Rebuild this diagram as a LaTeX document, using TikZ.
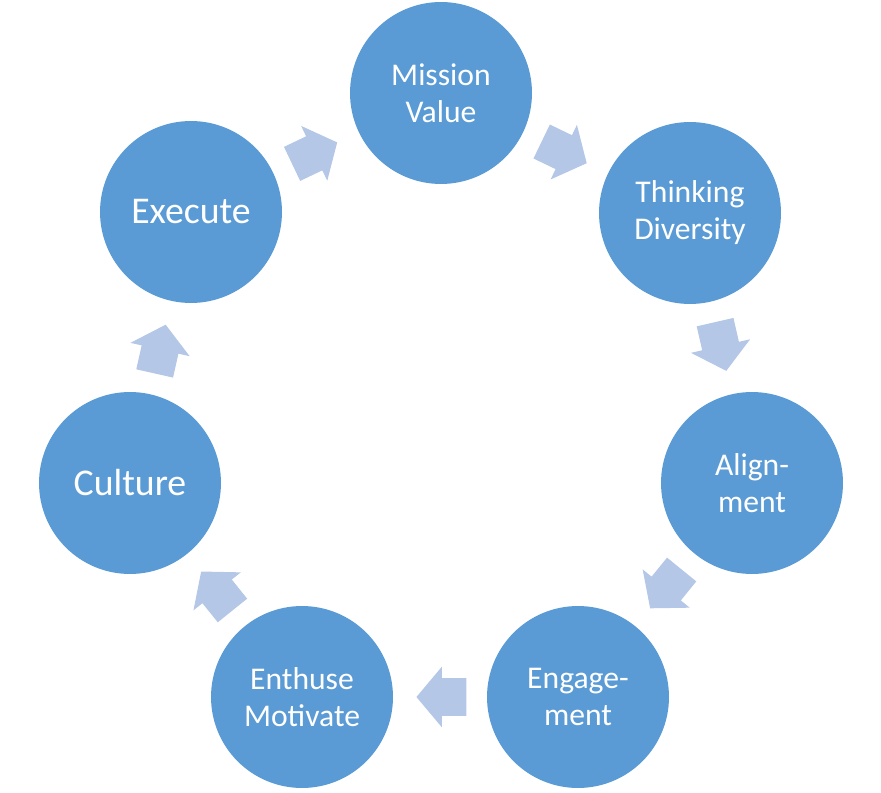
\documentclass[tikz,border=0pt]{standalone}
\usepackage{fontspec}
\setmainfont{Carlito}
\usepackage{xcolor}
\usetikzlibrary{shapes,arrows}

\definecolor{circblue}{HTML}{5B9BD5}
\definecolor{arrowblue}{HTML}{B4C7E7}

\begin{document}
\begin{tikzpicture}[x=0.02cm, y=-0.02cm,
    stage/.style={circle, fill=circblue, text=white, minimum size=3.64cm, inner sep=0pt, align=center, font=\fontsize{18}{21}\selectfont},
    bigstage/.style={stage, font=\fontsize{21.5}{25}\selectfont},
    flow/.style={single arrow, fill=arrowblue, inner xsep=0pt, inner ysep=0.37cm, single arrow head extend=0.23cm, single arrow tip angle=100, minimum height=1cm, sloped, allow upside down}]
    \useasboundingbox (0,0) rectangle (881,793);

    \node[stage] (mission) at (441,93) {Mission\\Value};
    \node[stage] (thinking) at (690,213) {Thinking\\Diversity};
    \node[stage] (align) at (752,483) {Align-\\ment};
    \node[stage] (engage) at (578,697) {Engage-\\ment};
    \node[stage] (enthuse) at (302,697) {Enthuse\\Motivate};
    \node[bigstage] (culture) at (130,483) {Culture};
    \node[bigstage] (execute) at (191,212) {Execute};

    % block arrows between the stages
    \path (mission) -- (thinking) node[pos=0.4, flow] {};
    \path (thinking) -- (align) node[pos=0.4, flow] {};
    \path (align) -- (engage) node[pos=0.4, flow] {};
    \path (engage) -- (enthuse) node[pos=0.4, flow] {};
    \path (enthuse) -- (culture) node[pos=0.4, flow] {};
    \path (culture) -- (execute) node[pos=0.4, flow] {};
    \path (execute) -- (mission) node[pos=0.4, flow] {};
\end{tikzpicture}
\end{document}
